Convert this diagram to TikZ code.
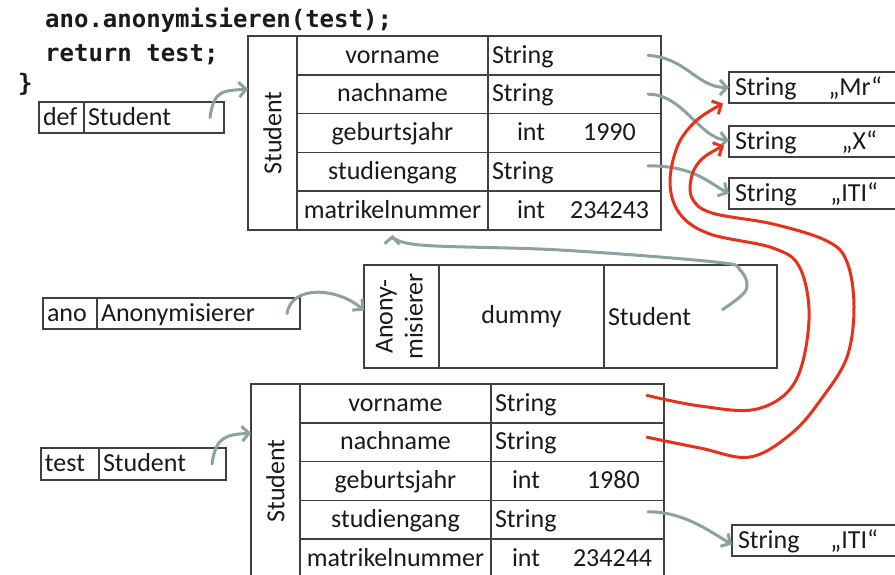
\documentclass[tikz,border=0pt]{standalone}
\usepackage{fontspec}
\usepackage{graphicx}
\setmainfont{Carlito}
\newfontfamily\codefont{DejaVu Sans Mono}
\usetikzlibrary{positioning, arrows.meta}
\definecolor{BoxGray}{HTML}{404040}
\definecolor{InkGray}{HTML}{8CA2A2}
\definecolor{InkRed}{HTML}{E5321C}
\definecolor{TextBlack}{HTML}{1A1A1A}
\newcommand{\cellfont}{\fontsize{26}{30}\selectfont}

\begin{document}
\begin{tikzpicture}[
        x=1pt, y=-1pt,
        cell/.style={
            rectangle, draw=BoxGray, line width=1.5pt, inner sep=0pt, outer sep=0pt,
            text=TextBlack, font=\cellfont
        },
        textcell/.style={cell, text height=20pt, text depth=4.8pt},
        classcell/.style={cell, minimum width=49pt, minimum height=194pt},
        namecell/.style={textcell, minimum width=191pt, minimum height=38.8pt},
        typecell/.style={textcell, minimum height=38.8pt, text width=165pt, inner xsep=4pt, align=left},
        refcell/.style={textcell, minimum height=31pt, inner xsep=4pt, align=left},
        strbox/.style={textcell, minimum height=31pt, text width=170pt, inner xsep=6pt, align=left},
        codetext/.style={inner sep=0pt, text=TextBlack, font=\codefont\bfseries\fontsize{24}{28}\selectfont},
        grayarrow/.style={draw=InkGray, line width=3pt, line cap=round, -{Straight Barb[length=7pt,width=15pt]}},
        redarrow/.style={draw=InkRed, line width=3pt, line cap=round, -{Straight Barb[length=7pt,width=15pt]}}
    ]

    \path[use as bounding box, fill=white] (0,0) rectangle (895,574);
    \clip (0,0) rectangle (895,574);

    % Code
    \node[codetext, anchor=base west] (code1) at (45,27) {ano.anonymisieren(test);};
    \node[codetext, anchor=base west] (code2) at (45,61) {return test;};
    \node[codetext, anchor=base west] (code3) at (18,91) {\}};

    % Variables
    \node[refcell, text width=37pt, anchor=north west] (defV) at (39,102) {def};
    \node[refcell, text width=132pt, right=0pt of defV] (defT) {Student};

    \node[refcell, text width=46pt, anchor=north west] (anoV) at (43,298) {ano};
    \node[refcell, text width=195pt, right=0pt of anoV] (anoT) {Anonymisierer};

    \node[refcell, minimum height=32pt, text width=50pt, anchor=north west] (testV) at (41,448) {test};
    \node[refcell, minimum height=32pt, text width=119pt, right=0pt of testV] (testT) {Student};

    % Student object (def)
    \node[classcell, anchor=north west] (s1) at (248,36) {\rotatebox{90}{Student}};
    \node[namecell, anchor=north west] (s1vn) at (s1.north east) {vorname};
    \node[namecell, below=0pt of s1vn] (s1nn) {nachname};
    \node[namecell, below=0pt of s1nn] (s1gj) {geburtsjahr};
    \node[namecell, below=0pt of s1gj] (s1sg) {studiengang};
    \node[namecell, below=0pt of s1sg] (s1mn) {matrikelnummer};
    \node[typecell, right=0pt of s1vn] (s1vnT) {String};
    \node[typecell, right=0pt of s1nn] (s1nnT) {String};
    \node[typecell, right=0pt of s1gj] (s1gjT) {\hspace*{25pt}int\hspace{38pt}1990};
    \node[typecell, right=0pt of s1sg] (s1sgT) {String};
    \node[typecell, right=0pt of s1mn] (s1mnT) {\hspace*{25pt}int\hspace{25pt}234243};

    % String objects
    \node[strbox, anchor=north west] (strMr) at (729,72) {String\hfill„Mr“\hspace*{23pt}};
    \node[strbox, anchor=north west] (strX) at (729,126) {String\hfill„X“\hspace*{28pt}};
    \node[strbox, anchor=north west] (strITI) at (729,178) {String\hfill„ITI“\hspace*{27pt}};
    \node[strbox, anchor=north west] (strITI2) at (732,525) {String\hfill„ITI“\hspace*{30pt}};

    % Anonymisierer object
    \node[cell, minimum width=75pt, minimum height=103pt, anchor=north west] (an) at (364,265)
        {\rotatebox{90}{\begin{tabular}{@{}c@{}}Anony-\\misierer\end{tabular}}};
    \node[cell, minimum width=165pt, minimum height=103pt, right=0pt of an] (anD) {dummy};
    \node[cell, minimum height=103pt, text width=165pt, inner xsep=4pt, align=left, right=0pt of anD] (anS) {Student};

    % Student object (test)
    \node[classcell, anchor=north west] (s2) at (251,384) {\rotatebox{90}{Student}};
    \node[namecell, anchor=north west] (s2vn) at (s2.north east) {vorname};
    \node[namecell, below=0pt of s2vn] (s2nn) {nachname};
    \node[namecell, below=0pt of s2nn] (s2gj) {geburtsjahr};
    \node[namecell, below=0pt of s2gj] (s2sg) {studiengang};
    \node[namecell, below=0pt of s2sg] (s2mn) {matrikelnummer};
    \node[typecell, right=0pt of s2vn] (s2vnT) {String};
    \node[typecell, right=0pt of s2nn] (s2nnT) {String};
    \node[typecell, right=0pt of s2gj] (s2gjT) {\hspace*{17pt}int\hspace{47pt}1980};
    \node[typecell, right=0pt of s2sg] (s2sgT) {String};
    \node[typecell, right=0pt of s2mn] (s2mnT) {\hspace*{17pt}int\hspace{33pt}234244};

    % References
    \draw[grayarrow] ([xshift=-14pt]defT.east) .. controls +(4,-28) and +(-25,2) .. ([yshift=44pt]s1.west);
    \draw[grayarrow] ([xshift=-13pt]s1vnT.east) .. controls +(38,2) and +(-32,0) .. (strMr.west);
    \draw[grayarrow] ([xshift=-13pt]s1nnT.east) .. controls +(35,0) and +(-30,-3) .. ([yshift=1pt]strX.west);
    \draw[grayarrow] ([xshift=-13pt,yshift=6pt]s1sgT.east) .. controls +(45,0) and +(-22,-12) .. (strITI.west);
    \draw[grayarrow] ([xshift=-13pt]anoT.east) .. controls +(5,-30) and +(-25,-22) .. ([yshift=6pt]an.west);
    \draw[grayarrow] plot[smooth, tension=0.6] coordinates {([xshift=32pt,yshift=7pt]anS.center) (746,290) (740,270) (715,262) (560,250) (420,245) ([yshift=-5pt]s1mn.south)};
    \draw[grayarrow] ([xshift=-14pt]testT.east) .. controls +(4,-28) and +(-25,2) .. ([yshift=48pt]s2.west);
    \draw[grayarrow] ([xshift=-16pt,yshift=8pt]s2sgT.east) .. controls +(35,0) and +(-25,-15) .. ([yshift=-4pt]strITI2.west);

    % Shared strings
    \draw[redarrow] plot[smooth, tension=0.6] coordinates {([xshift=-17pt,yshift=8pt]s2vnT.east) (700,406) (757,409) (795,382) (809,320) (800,268) (773,248) (710,234) (680,214) (670,183) (678,145) (697,120) ([xshift=-6pt,yshift=-16pt]strMr.west)};
    \draw[redarrow] plot[smooth, tension=0.6] coordinates {([xshift=-17pt,yshift=5pt]s2nnT.east) (700,448) (750,457) (792,433) (822,398) (847,357) (854,307) (847,262) (827,241) (773,224) (712,213) (692,198) (692,175) (703,158) ([xshift=-5pt,yshift=-4pt]strX.west)};

\end{tikzpicture}
\end{document}
